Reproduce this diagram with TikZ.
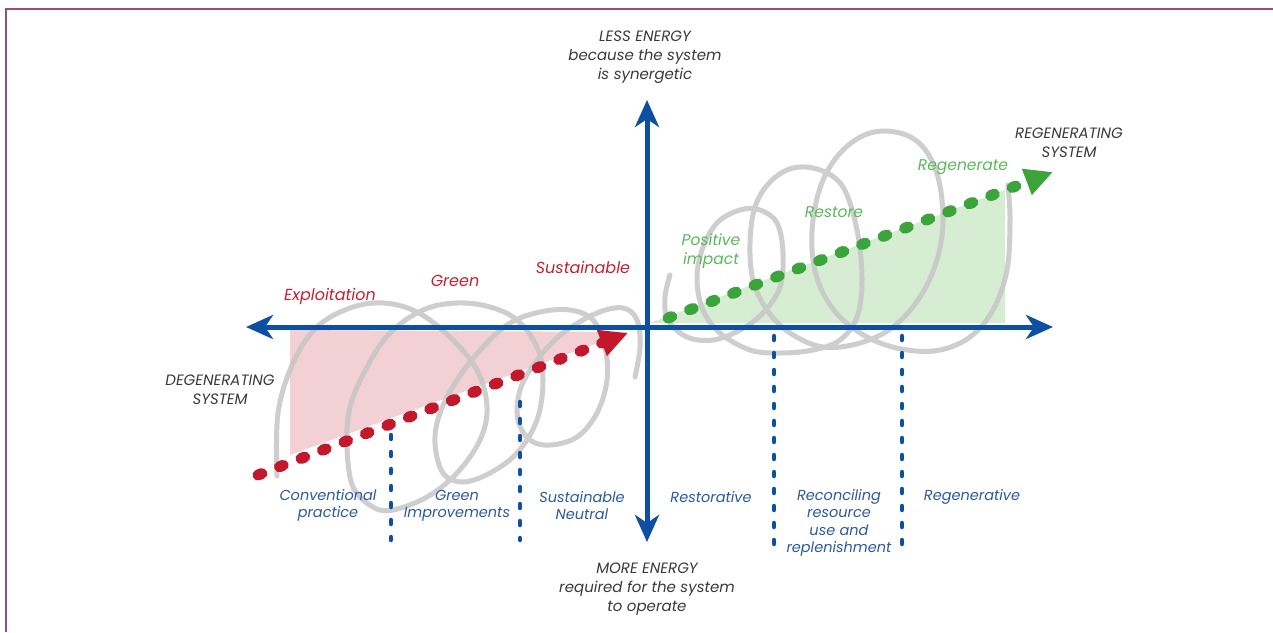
\documentclass[tikz,border=0pt]{standalone}
\usepackage{fontspec}
\setmainfont{Poppins}
\usetikzlibrary{arrows.meta}
\definecolor{axisblue}{HTML}{0D4FA3}
\definecolor{lblblue}{HTML}{2C5AA0}
\definecolor{dred}{HTML}{C3182B}
\definecolor{lred}{HTML}{C8202F}
\definecolor{pinkfill}{HTML}{F3D0D3}
\definecolor{dgreen}{HTML}{3BA53B}
\definecolor{lgreen}{HTML}{5CB85C}
\definecolor{greenfill}{HTML}{D6EDD4}
\definecolor{coil}{HTML}{C6C6C6}
\definecolor{frame}{HTML}{9B4D73}
\definecolor{txt}{HTML}{3A3A3A}
\begin{document}
\begin{tikzpicture}[x=1pt,y=-1pt,
  axis/.style={draw=axisblue,line width=5pt,-{Stealth[length=27pt,width=24pt,inset=8pt]}},
  coilline/.style={draw=coil,line width=5pt,opacity=0.85,line cap=round,smooth,tension=0.6},
  reddots/.style={draw=dred,line width=11pt,line cap=round,dash pattern=on 4pt off 19pt,-{Triangle[length=28pt,width=26pt]}},
  greendots/.style={draw=dgreen,line width=11pt,line cap=round,dash pattern=on 4pt off 19pt,-{Triangle[length=28pt,width=26pt]}},
  bluedots/.style={draw=axisblue,line width=4.5pt,line cap=round,dash pattern=on 4pt off 13pt},
  blk/.style={text=txt,font=\itshape\fontsize{15}{19}\selectfont,align=center,inner sep=0pt},
  redlbl/.style={text=lred,font=\itshape\fontsize{16}{17}\selectfont,align=center,inner sep=0pt},
  grnlbl/.style={text=lgreen,font=\itshape\fontsize{15.5}{19}\selectfont,align=center,inner sep=0pt},
  blulbl/.style={text=lblblue,font=\itshape\fontsize{14.5}{17.3}\selectfont,align=center,inner sep=0pt}]
\useasboundingbox (0,0) rectangle (1273,632);
\fill[white] (0,0) rectangle (1273,632);
\draw[frame,line width=2.5pt] (1273,9) -- (6,9) -- (6,632);

% fills
\fill[pinkfill] (290,330) -- (290,455) -- (628,332) -- cycle;
\fill[greenfill] (650,323) -- (1005,323) -- (1005,190) -- cycle;

% coils
\draw[coilline] plot coordinates {(277,476) (278,413) (293,363) (317,327) (350,308) (383,303) (417,312) (450,337) (477,370) (487,407) (480,440) (457,473) (427,497) (393,510) (373,507) (353,487) (347,447) (350,407) (367,367) (390,333) (423,310) (457,303) (490,307) (517,320) (537,347) (543,380) (537,420) (517,453) (490,473) (463,482) (443,473) (435,443) (440,413) (457,380) (483,347) (510,323) (540,312) (570,310) (593,320) (605,347) (607,380) (597,413) (577,437) (550,445) (530,440) (518,420) (520,390) (537,360) (563,333) (597,313) (623,308) (637,320) (640,347) (635,377)};
\draw[coilline] plot coordinates {(670,275) (665,297) (668,320) (687,337) (713,340) (740,330) (763,313) (780,287) (783,253) (777,223) (760,210) (740,210) (717,223) (702,250) (697,280) (703,310) (720,333) (750,350) (780,353) (813,350) (840,340) (857,317) (862,280) (857,230) (843,187) (820,170) (793,168) (770,182) (755,207) (750,243) (753,280) (767,310) (790,333) (823,347) (860,343) (893,327) (920,297) (937,260) (943,220) (938,177) (923,147) (900,133) (870,133) (843,150) (823,180) (813,220) (813,260) (823,293) (843,320) (873,340) (907,350) (940,350) (970,337) (993,310) (1007,270) (1010,220) (1008,185)};

% axes
\coordinate (O) at (647,327);
\coordinate (L) at (246,327);
\coordinate (R) at (1053,327);
\coordinate (T) at (647,100);
\coordinate (B) at (647,542);
\draw[axis] (O) -- (L);
\draw[axis] (O) -- (R);
\draw[axis] (O) -- (T);
\draw[axis] (O) -- (B);

% trend lines
\coordinate (r0) at (258,475);
\coordinate (r1) at (628,333);
\coordinate (g0) at (668,318);
\coordinate (g1) at (1053,172);
\draw[reddots] (r0) -- (r1);
\draw[greendots] (g0) -- (g1);

% dotted separators
\coordinate (d1a) at (391,435); \coordinate (d1b) at (391,540);
\coordinate (d2a) at (520,402); \coordinate (d2b) at (520,540);
\coordinate (d3a) at (774,336); \coordinate (d3b) at (774,544);
\coordinate (d4a) at (902,336); \coordinate (d4b) at (902,544);
\draw[bluedots] (d1a) -- (d1b);
\draw[bluedots] (d2a) -- (d2b);
\draw[bluedots] (d3a) -- (d3b);
\draw[bluedots] (d4a) -- (d4b);

% labels
\node[blk] (less) at (645,57) {LESS ENERGY\\because the system\\is synergetic};
\node[blk] (more) at (647,589) {MORE ENERGY\\required for the system\\to operate};
\node[blk] (regsys) at (1069,142.5) {REGENERATING\\SYSTEM};
\node[blk] (degsys) at (220,390) {DEGENERATING\\SYSTEM};

\node[redlbl] (expl) at (330,296) {Exploitation};
\node[redlbl] (green) at (455,281) {Green};
\node[redlbl] (sust) at (583,267) {Sustainable};

\node[grnlbl] (pos) at (711,251.5) {Positive\\impact};
\node[grnlbl] (rest) at (834,212) {Restore};
\node[grnlbl] (regen) at (963,167) {Regenerate};

\node[blulbl] (conv) at (328,505.5) {Conventional\\practice};
\node[blulbl] (gimp) at (457,505.5) {Green\\Improvements};
\node[blulbl] (sneu) at (582,505.5) {Sustainable\\Neutral};
\node[blulbl] (resto) at (711,497) {Restorative};
\node[blulbl] (recon) at (839,523) {Reconciling\\resource\\use and\\replenishment};
\node[blulbl] (regve) at (972,497) {Regenerative};
\end{tikzpicture}
\end{document}
